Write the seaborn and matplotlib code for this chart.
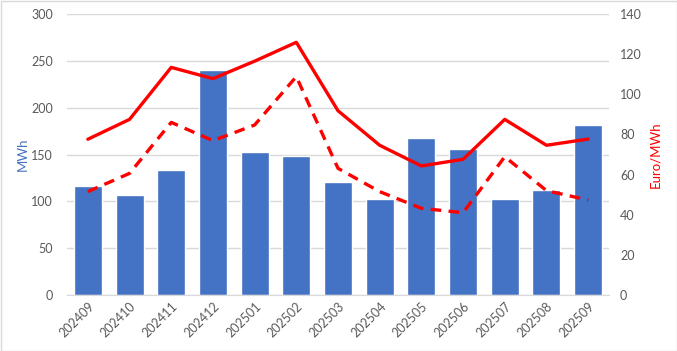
import pandas as pd
import numpy as np
import matplotlib.pyplot as plt
import seaborn as sns

# data
months = ['202409', '202410', '202411', '202412', '202501', '202502', '202503',
          '202504', '202505', '202506', '202507', '202508', '202509']
mwh = [116, 107, 133.5, 240, 152.5, 148.5, 120.5, 102.5, 167.5, 156, 102.5, 112, 181.5]
price_solid = [77.6, 87.5, 113.4, 107.8, 116.5, 125.9, 91.8, 74.6, 64.3, 67.6, 87.5, 74.6, 77.7]
price_dashed = [51.5, 60.6, 86, 76.9, 84.7, 108.8, 63.1, 51.5, 43.2, 41, 68.9, 52, 47.3]

df = pd.DataFrame({'month': months, 'mwh': mwh,
                   'solid': price_solid, 'dashed': price_dashed})
df['pos'] = np.arange(len(df))

sns.set_style('white')
plt.rcParams['font.family'] = ['Lato', 'DejaVu Sans']

fig = plt.figure(figsize=(6.77, 3.51), dpi=100)
ax = fig.add_axes([67 / 677, 1 - 295 / 351, (609 - 67) / 677, (295 - 14) / 351])

sns.barplot(data=df, x='month', y='mwh', color='#4472C4', saturation=1,
            width=0.67, ax=ax, zorder=2)
ax.set_ylim(0, 300)
ax.set_yticks(range(0, 301, 50))
ax.grid(axis='y', color='#d9d9d9', linewidth=1, zorder=0)
ax.set_axisbelow(True)
ax.set_xlim(-0.5, len(df) - 0.5)
ax.set_xlabel('')
ax.set_ylabel('MWh', color='#4472C4', fontsize=9.5, labelpad=2)
ax.tick_params(axis='y', colors='#595959', labelsize=9, length=0, pad=10)
ax.tick_params(axis='x', colors='#595959', labelsize=9, length=0)
plt.setp(ax.get_xticklabels(), rotation=45, ha='right', rotation_mode='anchor')
for s in ['top', 'right', 'left']:
    ax.spines[s].set_visible(False)
ax.spines['bottom'].set_color('#d9d9d9')

ax2 = ax.twinx()
sns.lineplot(data=df, x='pos', y='solid', color='#ff0000', linewidth=2.4, ax=ax2)
sns.lineplot(data=df, x='pos', y='dashed', color='#ff0000', linewidth=2.4,
             linestyle=(0, (3.2, 2.2)), ax=ax2)
ax2.set_ylim(0, 140)
ax2.set_yticks(range(0, 141, 20))
ax2.set_xlim(-0.5, len(df) - 0.5)
ax2.set_ylabel('Euro/MWh', color='#ff0000', fontsize=9.5, labelpad=5)
ax2.tick_params(axis='y', colors='#595959', labelsize=9, length=0, pad=8)
for s in ax2.spines.values():
    s.set_visible(False)

fig.patches.append(plt.Rectangle((0.5 / 677, 0.5 / 351), 676 / 677, 350 / 351,
                                 transform=fig.transFigure, fill=False,
                                 edgecolor='#d9d9d9', linewidth=1))

fig.savefig('out.png', dpi=100)
